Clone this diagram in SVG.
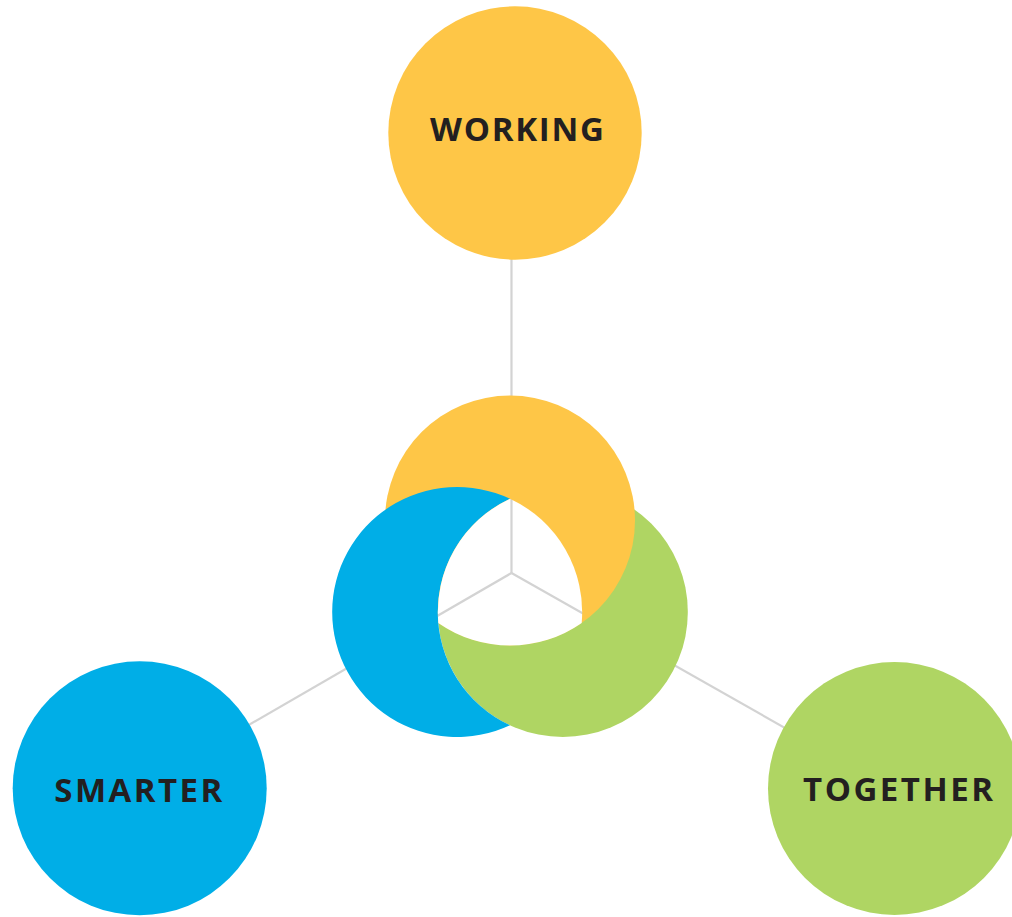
<svg xmlns="http://www.w3.org/2000/svg" width="1012" height="917" viewBox="0 0 1012 917">
  <style>
    .conn { stroke: #d3d3d3; stroke-width: 2.2; fill: none; }
    .yel { fill: #fec647; }
    .blu { fill: #00aee7; }
    .grn { fill: #afd563; }
    .lbl { font-family: "Open Sans", "Liberation Sans", sans-serif; font-weight: 700; font-size: 33px; fill: #231f20; }
  </style>
  <defs>
    <mask id="hole" maskUnits="userSpaceOnUse" x="0" y="0" width="1012" height="917">
      <rect x="0" y="0" width="1012" height="917" fill="#fff"/>
      <path d="M510,498.7 A125,125 0 0 1 581.7,622.9 A125,125 0 0 1 438.3,622.9 A125,125 0 0 1 510,498.7 Z" fill="#000"/>
    </mask>
  </defs>
  <rect x="0" y="0" width="1012" height="917" fill="#fff"/>
  <g id="connectors">
    <line class="conn" x1="511.5" y1="573" x2="511.5" y2="133"/>
    <line class="conn" x1="511.5" y1="573" x2="139.7" y2="788"/>
    <line class="conn" x1="511.5" y1="573" x2="894.5" y2="790"/>
  </g>
  <g id="center-rings" mask="url(#hole)">
    <circle class="grn" cx="562.83" cy="612" r="125"/>
    <circle class="yel" cx="510" cy="520.5" r="125"/>
    <path class="blu" d="M510,498.7 A125,125 0 1 0 510,725.3 A125,125 0 0 1 510,498.7 Z"/>
  </g>
  <g id="node-working">
    <circle class="yel" cx="515" cy="133" r="126.7"/>
    <text class="lbl" x="430" y="141" textLength="174" lengthAdjust="spacing">WORKING</text>
  </g>
  <g id="node-smarter">
    <circle class="blu" cx="139.7" cy="788.3" r="127"/>
    <text class="lbl" x="54.3" y="801.7" textLength="168" lengthAdjust="spacing">SMARTER</text>
  </g>
  <g id="node-together">
    <circle class="grn" cx="894.5" cy="788.5" r="126.5"/>
    <text class="lbl" x="803" y="801" textLength="190" lengthAdjust="spacing">TOGETHER</text>
  </g>
</svg>
